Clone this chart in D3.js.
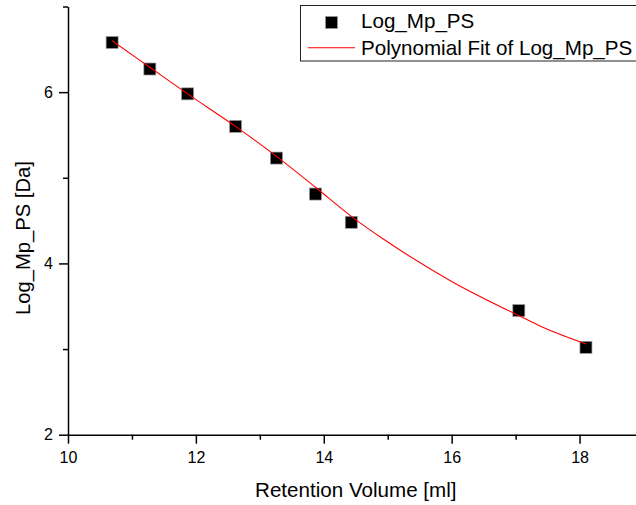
<!DOCTYPE html>
<html>
<head>
<meta charset="utf-8">
<script src="https://cdn.jsdelivr.net/npm/d3@7"></script>
<style>
  html, body { margin: 0; padding: 0; background: #fff; }
  svg { display: block; font-family: "Liberation Sans", Arial, sans-serif; }
</style>
</head>
<body>
<svg id="chart" width="636" height="505"></svg>
<script>
// ---- data ----
const retentionVolume = [10.69, 11.28, 11.87, 12.62, 13.26, 13.87, 14.43, 17.05, 18.10];
const logMpPS        = [6.58, 6.27, 5.98, 5.60, 5.23, 4.81, 4.48, 3.45, 3.02];

// polynomial fit curve
const fitX = [10.69, 11.28, 11.87, 12.62, 13.26, 13.87, 14.43, 14.96, 16.00, 17.05, 17.38, 18.10];
const fitY = [6.60, 6.29, 5.98, 5.60, 5.25, 4.89, 4.55, 4.27, 3.79, 3.39, 3.27, 3.06];

const xMajorTicks = [10, 12, 14, 16, 18];
const xMinorTicks = [11, 13, 15, 17, 19];
const yMajorTicks = [2, 4, 6];
const yMinorTicks = [3, 5, 7];

const xTitle = "Retention Volume [ml]";
const yTitle = "Log_Mp_PS [Da]";
const legendLabels = ["Log_Mp_PS", "Polynomial Fit of Log_Mp_PS"];

// ---- layout ----
const svg = d3.select("#chart");
const x = d3.scaleLinear().domain([10, 19]).range([68, 643.5]);
const y = d3.scaleLinear().domain([2, 7]).range([434.7, 6.5]);
const x0 = x(10), y0 = y(2);

// minor ticks
svg.append("g").attr("transform", `translate(0,${y0})`)
  .call(d3.axisBottom(x).tickValues(xMinorTicks).tickSize(5).tickFormat(""))
  .call(g => g.select(".domain").remove())
  .selectAll("line").attr("stroke", "#000").attr("stroke-width", 1.5);
svg.append("g").attr("transform", `translate(${x0},0)`)
  .call(d3.axisLeft(y).tickValues(yMinorTicks).tickSize(5).tickFormat(""))
  .call(g => g.select(".domain").remove())
  .selectAll("line").attr("stroke", "#000").attr("stroke-width", 1.5);

// major axes
const gx = svg.append("g").attr("transform", `translate(0,${y0})`)
  .call(d3.axisBottom(x).tickValues(xMajorTicks).tickSize(9).tickSizeOuter(0).tickFormat(d3.format("d")));
gx.select(".domain").attr("stroke", "#000").attr("stroke-width", 1.5);
gx.selectAll(".tick line").attr("stroke", "#000").attr("stroke-width", 1.5);
gx.selectAll(".tick text").attr("y", 28.6).attr("dy", null)
  .attr("font-size", 16).attr("fill", "#000").attr("font-family", "Liberation Sans, Arial, sans-serif");

const gy = svg.append("g").attr("transform", `translate(${x0},0)`)
  .call(d3.axisLeft(y).tickValues(yMajorTicks).tickSize(9).tickPadding(6).tickSizeOuter(0).tickFormat(d3.format("d")));
gy.select(".domain").attr("stroke", "#000").attr("stroke-width", 1.5);
gy.selectAll(".tick line").attr("stroke", "#000").attr("stroke-width", 1.5);
gy.selectAll(".tick text").attr("font-size", 16).attr("fill", "#000")
  .attr("font-family", "Liberation Sans, Arial, sans-serif");

// axis titles
svg.append("text").attr("x", (x(10) + x(19)) / 2).attr("y", 496.7)
  .attr("text-anchor", "middle").attr("font-size", 20.6).attr("fill", "#000").text(xTitle);
svg.append("text").attr("transform", "translate(30,238) rotate(-90)")
  .attr("text-anchor", "middle").attr("font-size", 20.2).attr("fill", "#000").text(yTitle);

// scatter points
const pts = retentionVolume.map((v, i) => ({ x: v, y: logMpPS[i] }));
const S = 12;
svg.append("g").selectAll("rect").data(pts).join("rect")
  .attr("x", d => x(d.x) - S / 2).attr("y", d => y(d.y) - S / 2)
  .attr("width", S).attr("height", S)
  .attr("fill", "#000").attr("stroke", "#9a9a9a").attr("stroke-width", 0.7);

// fit line (drawn over markers)
const fit = fitX.map((v, i) => ({ x: v, y: fitY[i] }));
svg.append("path").datum(fit)
  .attr("fill", "none").attr("stroke", "#ff0000").attr("stroke-width", 1.1)
  .attr("d", d3.line().x(d => x(d.x)).y(d => y(d.y)).curve(d3.curveMonotoneX));

// legend
const lg = svg.append("g");
lg.append("rect").attr("x", 300.5).attr("y", 5.5).attr("width", 360).attr("height", 55.5)
  .attr("fill", "#fff").attr("stroke", "#222").attr("stroke-width", 1);
lg.append("rect").attr("x", 325.5).attr("y", 16.5).attr("width", 12).attr("height", 12)
  .attr("fill", "#000").attr("stroke", "#9a9a9a").attr("stroke-width", 0.7);
lg.append("text").attr("x", 361).attr("y", 28.3).attr("font-size", 20.6).attr("fill", "#000").text(legendLabels[0]);
lg.append("line").attr("x1", 307.7).attr("x2", 355).attr("y1", 47.7).attr("y2", 47.7)
  .attr("stroke", "#ff0000").attr("stroke-width", 1.1);
lg.append("text").attr("x", 361).attr("y", 54.5).attr("font-size", 20.6).attr("fill", "#000").text(legendLabels[1]);
</script>
</body>
</html>
